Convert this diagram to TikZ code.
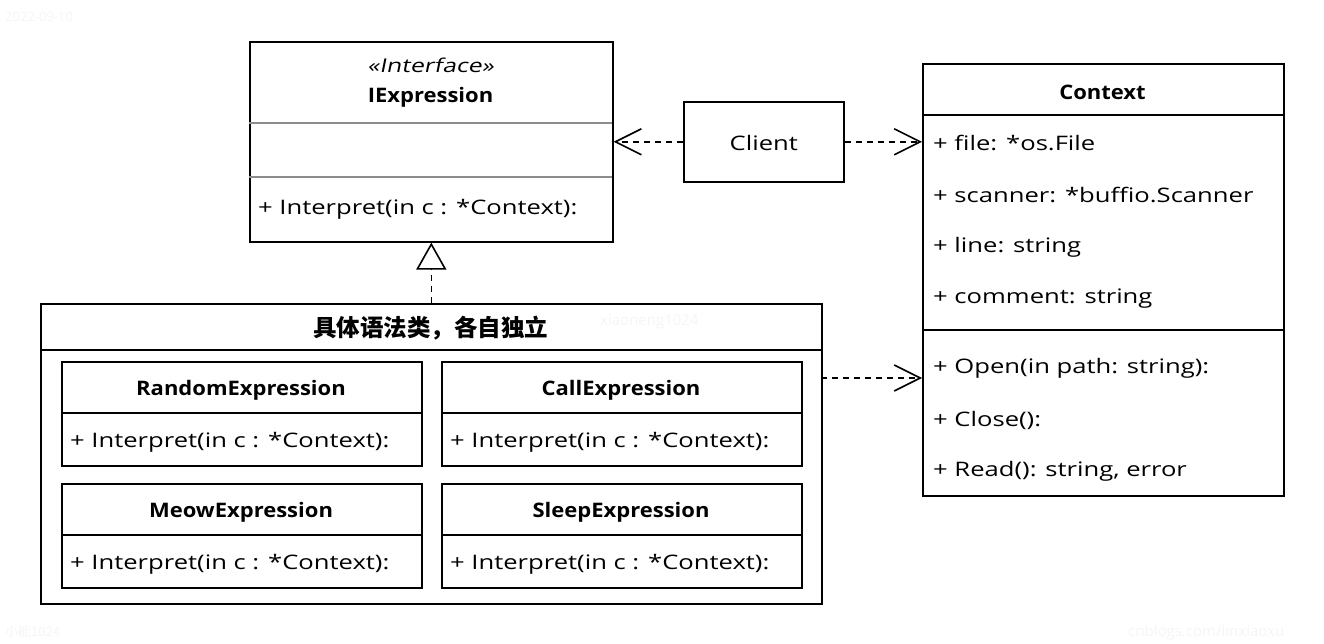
\documentclass[tikz,border=0pt]{standalone}
\usepackage{fontspec}
\setmainfont{Open Sans}
\newfontfamily\bodyf[FakeStretch=1.28]{Open Sans}
\newfontfamily\titlef[FakeStretch=1.1]{Open Sans}
\newfontfamily\itf[FakeStretch=1.3,FakeSlant=0.2]{Open Sans}
\newfontfamily\cjk{Noto Sans CJK SC}
\usetikzlibrary{arrows.meta}
\begin{document}
\begin{tikzpicture}[x=1pt,y=-1pt,
  box/.style={draw, line width=1.6pt, rectangle, inner sep=0pt, anchor=north west},
  sep/.style={line width=1.6pt},
  gsep/.style={line width=1.6pt, draw=black!45},
  lbl/.style={font=\bodyf\fontsize{20}{24}\selectfont, anchor=west, inner sep=0pt, yshift=-2pt},
  ttl/.style={font=\titlef\bfseries\fontsize{20}{24}\selectfont, inner sep=0pt, yshift=-2pt},
  wm/.style={text=black!4, inner sep=0pt, anchor=west},
  dep/.style={line width=1.6pt, dash pattern=on 6pt off 5pt, -{Straight Barb[length=26pt,width=26pt,line width=1.6pt]}},
  real/.style={line width=1.6pt, dash pattern=on 6pt off 5pt, -{Triangle[open,length=27pt,width=30pt,fill=white,line width=1.6pt]}}
]
\useasboundingbox (0,0) rectangle (1324,644);

% watermarks
\node[wm, font=\fontsize{13}{15}\selectfont] (wm1) at (5,17) {2022-09-10};
\node[wm, font=\cjk\fontsize{13}{15}\selectfont] (wm2) at (5,632) {小能1024};
\node[wm, font=\fontsize{15}{17}\selectfont] (wm3) at (1128,633) {cnblogs.com/linxiaoxu};
\node[wm, font=\fontsize{15}{17}\selectfont] (wm4) at (600,322) {xiaoneng1024};

% IExpression
\node[box, minimum width=363pt, minimum height=200pt] (iexpr) at (249,41) {};
\node[inner sep=0pt, font=\itf\fontsize{19}{22}\selectfont, yshift=-1pt] (ist) at (430.5,64) {«Interface»};
\node[ttl] (iname) at (430.5,95) {IExpression};
\draw[gsep] (249,123) -- (612,123);
\draw[gsep] (249,177) -- (612,177);
\node[lbl] (im) at (258,207) {+ Interpret(in c : *Context):};

% Client
\node[box, minimum width=160pt, minimum height=80pt] (client) at (683,101) {};
\node[inner sep=0pt, font=\bodyf\fontsize{20}{24}\selectfont, yshift=-1pt] (clt) at (client.center) {Client};

% Context
\node[box, minimum width=361pt, minimum height=432pt] (ctx) at (922,63) {};
\node[ttl] (ctxn) at (1102.5,90) {Context};
\draw[sep] (922,115) -- (1283,115);
\node[lbl] (c1) at (933,141) {+ file: *os.File};
\node[lbl] (c2) at (933,193) {+ scanner: *buffio.Scanner};
\node[lbl] (c3) at (933,245) {+ line: string};
\node[lbl] (c4) at (933,297) {+ comment: string};
\draw[sep] (922,330) -- (1283,330);
\node[lbl] (c5) at (933,366) {+ Open(in path: string):};
\node[lbl] (c6) at (933,418) {+ Close():};
\node[lbl] (c7) at (933,469) {+ Read(): string, error};

% Package
\node[box, minimum width=781pt, minimum height=300pt] (pkg) at (40,303) {};
\node[inner sep=0pt, font=\cjk\bfseries\fontsize{23.5}{26}\selectfont, yshift=-1pt] (pkgn) at (430.5,327) {具体语法类，各自独立};
\draw[sep] (40,350) -- (821,350);

% inner classes
\node[box, minimum width=360pt, minimum height=104pt] (rnd) at (61,361) {};
\node[ttl] (rndn) at (241,388) {RandomExpression};
\draw[sep] (61,413) -- (421,413);
\node[lbl] (rndm) at (70,440) {+ Interpret(in c : *Context):};

\node[box, minimum width=360pt, minimum height=104pt] (call) at (441,361) {};
\node[ttl] (calln) at (621,388) {CallExpression};
\draw[sep] (441,413) -- (801,413);
\node[lbl] (callm) at (450,440) {+ Interpret(in c : *Context):};

\node[box, minimum width=360pt, minimum height=104pt] (meow) at (61,483) {};
\node[ttl] (meown) at (241,510) {MeowExpression};
\draw[sep] (61,535) -- (421,535);
\node[lbl] (meowm) at (70,562) {+ Interpret(in c : *Context):};

\node[box, minimum width=360pt, minimum height=104pt] (slp) at (441,483) {};
\node[ttl] (slpn) at (621,510) {SleepExpression};
\draw[sep] (441,535) -- (801,535);
\node[lbl] (slpm) at (450,562) {+ Interpret(in c : *Context):};

% connectors
\draw[dep] (client.west) -- (client.west -| iexpr.east);
\draw[dep] (client.east) -- (client.east -| ctx.west);
\draw[real] (pkg.north) -- (iexpr.south);
\coordinate (pa) at (821,378);
\draw[dep] (pa) -- (pa -| ctx.west);
\end{tikzpicture}
\end{document}
